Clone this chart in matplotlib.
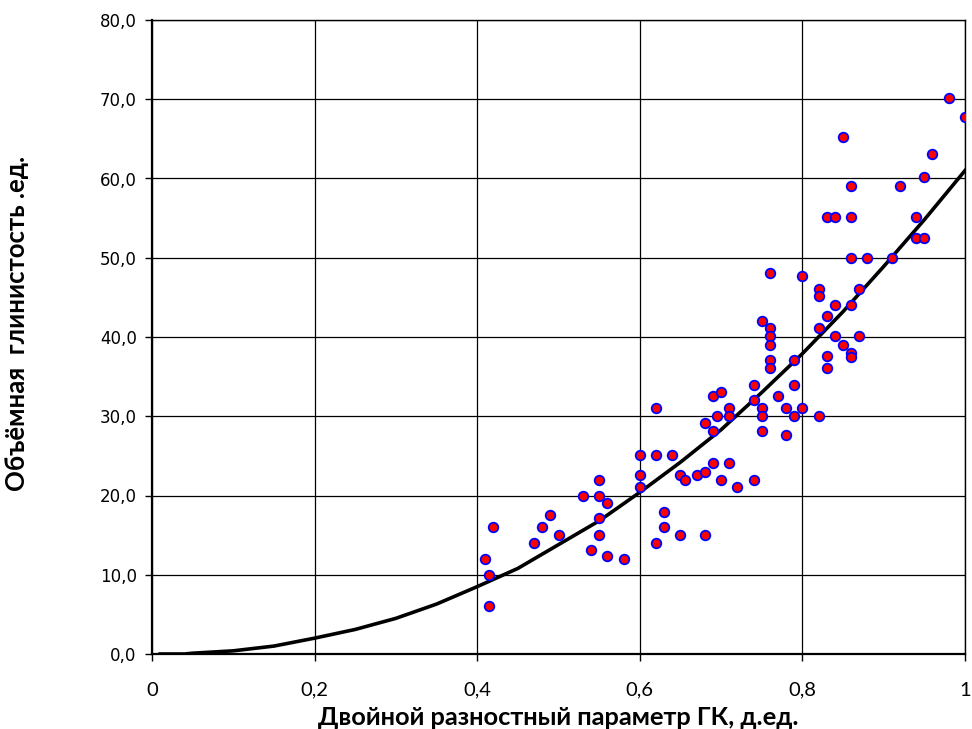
import matplotlib
matplotlib.use("Agg")
import matplotlib.pyplot as plt
from matplotlib.ticker import FuncFormatter

# Scatter data (double difference GR parameter vs. volumetric clay content)
x_pts = [0.41, 0.415, 0.415, 0.42, 0.47, 0.48, 0.49, 0.50, 0.53, 0.54,
         0.55, 0.55, 0.55, 0.55, 0.56, 0.56, 0.58, 0.60, 0.60, 0.60,
         0.62, 0.62, 0.62, 0.63, 0.63, 0.64, 0.65, 0.655, 0.65, 0.67,
         0.68, 0.68, 0.68, 0.69, 0.69, 0.69, 0.695, 0.70, 0.70, 0.71,
         0.71, 0.71, 0.72, 0.74, 0.74, 0.74, 0.75, 0.75, 0.75, 0.75,
         0.76, 0.76, 0.76, 0.76, 0.76, 0.76, 0.77, 0.78, 0.78, 0.79,
         0.79, 0.79, 0.80, 0.80, 0.82, 0.82, 0.82, 0.82, 0.83, 0.83,
         0.83, 0.83, 0.84, 0.84, 0.84, 0.85, 0.85, 0.86, 0.86, 0.86,
         0.86, 0.86, 0.86, 0.87, 0.87, 0.88, 0.91, 0.92, 0.94, 0.94,
         0.95, 0.95, 0.96, 0.98, 1.00]
y_pts = [12.0, 10.0, 6.0, 16.0, 14.0, 16.0, 17.5, 15.0, 20.0, 13.1,
         22.0, 20.0, 17.1, 15.0, 19.0, 12.4, 12.0, 25.1, 22.6, 21.1,
         31.0, 25.1, 14.0, 17.9, 16.0, 25.1, 22.6, 22.0, 15.0, 22.6,
         23.0, 29.2, 15.0, 32.5, 28.1, 24.1, 30.0, 33.1, 22.0, 31.0,
         30.0, 24.1, 21.1, 34.0, 32.1, 22.0, 42.0, 31.0, 30.0, 28.1,
         48.1, 41.1, 40.1, 39.0, 37.1, 36.1, 32.5, 31.0, 27.6, 37.1,
         34.0, 30.0, 47.7, 31.0, 46.0, 45.2, 41.1, 30.0, 55.1, 42.6,
         37.6, 36.1, 55.1, 44.1, 40.1, 65.2, 39.0, 59.1, 55.1, 50.0,
         44.1, 38.0, 37.5, 46.0, 40.1, 50.0, 50.0, 59.1, 55.1, 52.5,
         52.5, 60.2, 63.1, 70.1, 67.8]

# Trend curve
x_curve = [0.01, 0.04, 0.05, 0.10, 0.15, 0.20, 0.25, 0.30, 0.35, 0.40,
           0.45, 0.50, 0.55, 0.60, 0.65, 0.70, 0.75, 0.80, 0.85, 0.90,
           0.95, 1.00]
y_curve = [0.0, 0.0, 0.1, 0.4, 1.0, 2.0, 3.1, 4.5, 6.3, 8.5,
           10.8, 13.8, 16.8, 20.4, 24.2, 28.3, 33.0, 37.9, 43.2, 48.9,
           54.8, 61.0]

x_ticks = [0, 0.2, 0.4, 0.6, 0.8, 1.0]
y_ticks = [0, 10, 20, 30, 40, 50, 60, 70, 80]

xlabel = "Двойной разностный параметр ГК, д.ед."
ylabel = "Объёмная  глинистость .ед."

fig = plt.figure(figsize=(9.72, 7.29), dpi=100)
ax = fig.add_axes([152/972, 1 - 654/729, (965 - 152)/972, (654 - 20)/729])

ax.set_xlim(0, 1)
ax.set_ylim(0, 80)
ax.set_xticks(x_ticks)
ax.set_yticks(y_ticks)
ax.grid(True, color="black", linewidth=0.9)
ax.set_axisbelow(True)

ax.plot(x_curve, y_curve, color="black", linewidth=2.6, zorder=3)
ax.plot(x_pts, y_pts, linestyle="none", marker="o", markersize=6.9,
        markerfacecolor="red", markeredgecolor="blue", markeredgewidth=1.3,
        zorder=4)

ax.xaxis.set_major_formatter(FuncFormatter(
    lambda v, p: "0" if v == 0 else ("1" if v == 1 else f"{v:.1f}".replace(".", ","))))
ax.yaxis.set_major_formatter(FuncFormatter(lambda v, p: f"{v:.1f}".replace(".", ",")))

ax.tick_params(axis="both", direction="out", length=5, width=1, color="black")
ax.tick_params(axis="x", pad=15)
ax.tick_params(axis="y", pad=6)
for lab in ax.get_xticklabels():
    lab.set_fontfamily(["Lato", "DejaVu Sans"])
    lab.set_fontsize(14.5)
for lab in ax.get_yticklabels():
    lab.set_fontfamily("DejaVu Sans")
    lab.set_fontsize(12)

for s in ax.spines.values():
    s.set_linewidth(1.0)
ax.spines["left"].set_linewidth(1.6)
ax.spines["bottom"].set_linewidth(1.6)

ax.set_xlabel(xlabel, fontsize=18.3, fontweight="bold",
              fontfamily=["Lato", "Open Sans", "DejaVu Sans"], labelpad=5)

fig.text(17/972, 1 - 323/729, ylabel, rotation=90, ha="center", va="center",
         fontsize=18.5, fontweight="bold", fontfamily=["Lato", "Open Sans", "DejaVu Sans"])

fig.savefig("out.png", dpi=100)
